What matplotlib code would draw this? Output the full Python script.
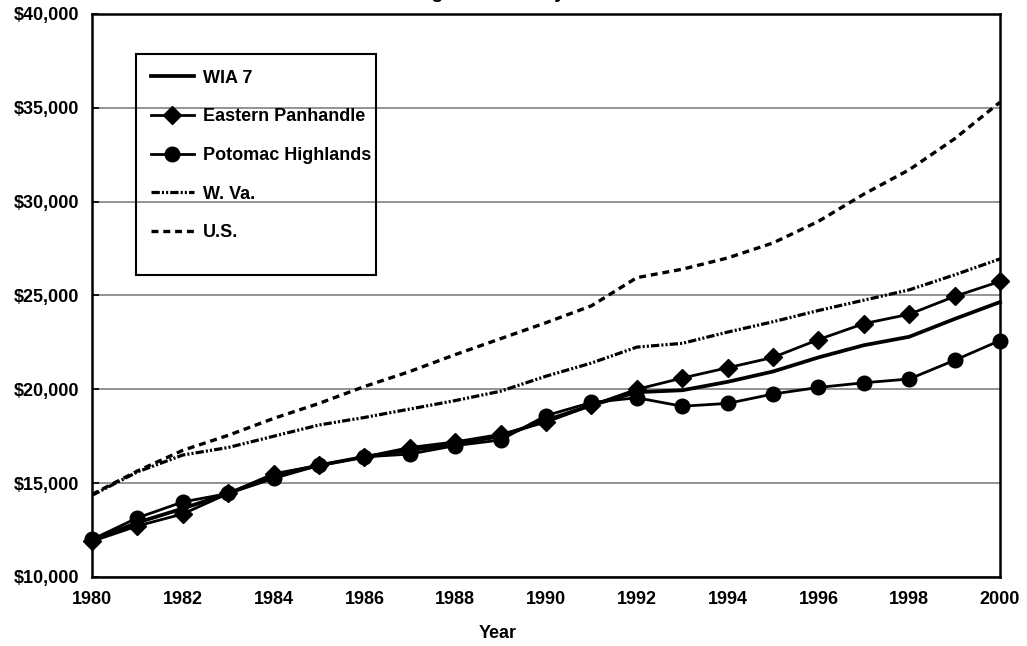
import matplotlib
matplotlib.use("Agg")
import matplotlib.pyplot as plt
from matplotlib.patches import Rectangle
from matplotlib.ticker import FuncFormatter

plt.rcParams['font.family'] = ['Liberation Sans', 'DejaVu Sans']
plt.rcParams['font.weight'] = 'bold'
plt.rcParams['lines.scale_dashes'] = False

# data
years = list(range(1980, 2001))
wia7 = [11950, 12900, 13650, 14450, 15400, 15950, 16400, 16750, 17100, 17500, 18350,
        19150, 19850, 19950, 20400, 20950, 21700, 22350, 22800, 23750, 24650]
eastern = [11900, 12720, 13360, 14450, 15500, 15950, 16400, 16900, 17200, 17600, 18250,
           19150, 20000, 20600, 21150, 21700, 22650, 23500, 24000, 24950, 25750]
potomac = [12000, 13150, 14000, 14450, 15250, 15950, 16400, 16550, 17000, 17300, 18600,
           19300, 19550, 19100, 19250, 19750, 20100, 20350, 20550, 21550, 22600]
wva = [14350, 15600, 16500, 16900, 17500, 18100, 18500, 18950, 19400, 19900, 20700,
       21400, 22250, 22450, 23050, 23600, 24200, 24750, 25300, 26100, 26950]
us = [14400, 15650, 16750, 17550, 18450, 19250, 20150, 20950, 21850, 22700, 23550,
      24450, 25950, 26400, 27000, 27800, 28950, 30400, 31700, 33350, 35300]
labels = ["WIA 7", "Eastern Panhandle", "Potomac Highlands", "W. Va.", "U.S."]

W, H = 1027, 646
fig = plt.figure(figsize=(W / 100, H / 100), dpi=100)
ax = fig.add_axes([92 / W, 1 - 577 / H, (1000 - 92) / W, (577 - 14) / H])

ax.plot(years, wia7, color='black', lw=2.7, label=labels[0], zorder=5, clip_on=False)
ax.plot(years, eastern, color='black', lw=2.0, marker='D', markersize=9.5,
        label=labels[1], zorder=4, clip_on=False)
ax.plot(years, potomac, color='black', lw=2.0, marker='o', markersize=10.5,
        label=labels[2], zorder=4, clip_on=False)
ax.plot(years, wva, color='black', lw=2.3, dashes=(6, 1.5, 1.5, 1.5, 1.5, 1.5),
        label=labels[3], zorder=3)
ax.plot(years, us, color='black', lw=2.4, dashes=(5, 3.5), label=labels[4], zorder=3)

ax.set_xlim(1980, 2000)
ax.set_ylim(10000, 40000)
ax.set_xticks(range(1980, 2001, 2))
ax.set_yticks(range(10000, 40001, 5000))
ax.yaxis.set_major_formatter(FuncFormatter(lambda v, p: '${:,.0f}'.format(v)))
ax.yaxis.grid(True, color='#808080', lw=1.2)
ax.set_axisbelow(True)
ax.tick_params(axis='y', direction='in', length=5, width=1.2, labelsize=13, pad=9)
ax.tick_params(axis='x', direction='in', length=0, labelsize=13, pad=10)
for s in ax.spines.values():
    s.set_linewidth(1.8)

fig.text(498 / W, 1 - 633 / H, 'Year', ha='center', va='center', fontsize=13, fontweight='bold')

# title mostly cut off by the top edge, as in the source image
fig.text(472 / W, 1 + 2 / H, 'Average Annual Pay', ha='center', va='baseline',
         fontsize=14, fontweight='bold')

# legend with a hand-drawn box (box is taller than the entries)
fig.patches.append(Rectangle((136 / W, 1 - 275 / H), (376 - 136) / W, (275 - 54) / H,
                             transform=fig.transFigure, fill=False, ec='black', lw=1.5, zorder=6))
leg = ax.legend(loc='upper left', bbox_to_anchor=(138 / W, 1 - 57 / H),
                bbox_transform=fig.transFigure, frameon=False, fontsize=13,
                handlelength=2.4, handletextpad=0.5, labelspacing=1.2, borderpad=0.2)
for t in leg.get_texts():
    t.set_fontweight('bold')

fig.savefig('out.png', dpi=100)
